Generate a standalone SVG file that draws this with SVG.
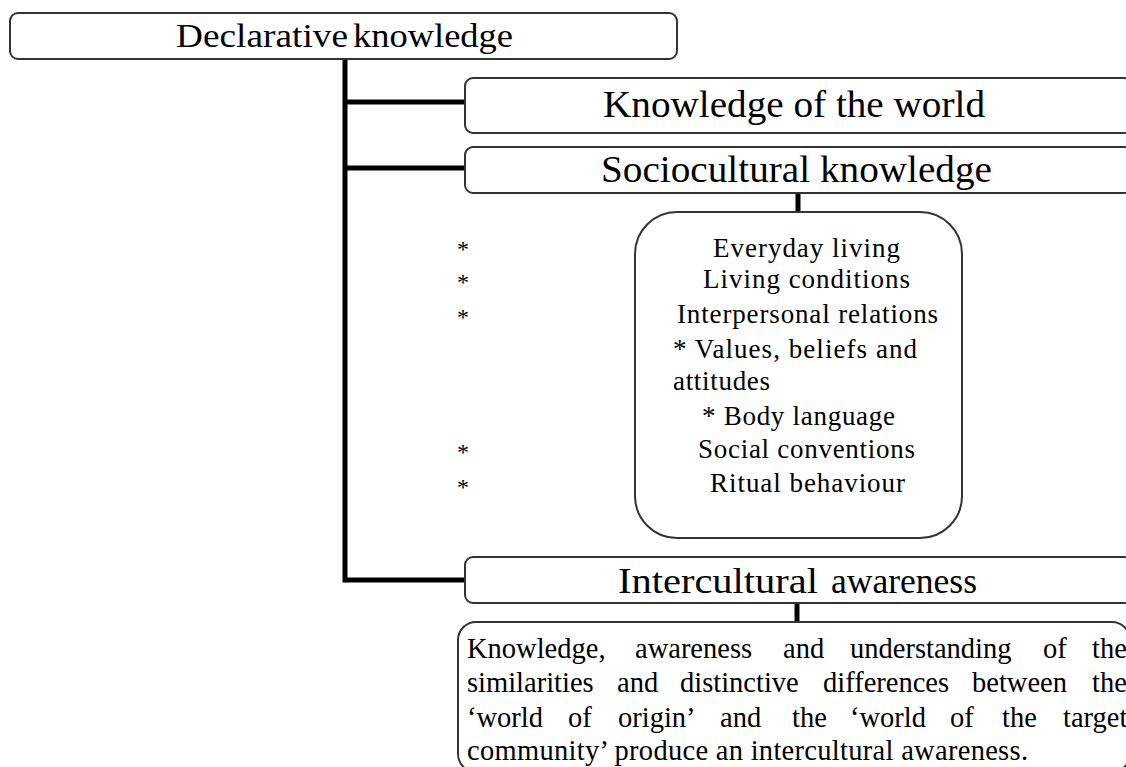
<svg xmlns="http://www.w3.org/2000/svg" width="1126" height="767" viewBox="0 0 1126 767">
<style>
  .box { fill: #ffffff; stroke: #333333; stroke-width: 2; }
  .con { fill: none; stroke: #000000; stroke-width: 5; stroke-linejoin: miter; stroke-linecap: butt; }
  text { font-family: "Liberation Serif", "Times New Roman", serif; fill: #000000; }
  .h1 { font-size: 34px; }
  .h2 { font-size: 37px; }
  .h3 { font-size: 35px; }
  .item { font-size: 27px; }
  .star { font-size: 24px; }
  .para { font-size: 28.5px; }
</style>
<rect width="1126" height="767" fill="#ffffff"/>
<g id="connectors">
  <path class="con" d="M345 59 V580 H466"/>
  <path class="con" d="M345 102 H466"/>
  <path class="con" d="M345 168 H466"/>
  <path class="con" d="M798 193 V213"/>
  <path class="con" d="M797 603 V622"/>
</g>
<g id="declarative">
  <rect class="box" x="10" y="13" width="667" height="46" rx="8"/>
  <text class="h1" y="47"><tspan x="176" textLength="172" lengthAdjust="spacingAndGlyphs">Declarative</tspan><tspan x="353" textLength="160" lengthAdjust="spacingAndGlyphs">knowledge</tspan></text>
</g>
<g id="world">
  <rect class="box" x="465" y="78" width="667" height="55" rx="8"/>
  <text class="h2" x="603" y="117" textLength="382" lengthAdjust="spacingAndGlyphs">Knowledge of the world</text>
</g>
<g id="sociocultural">
  <rect class="box" x="465" y="147" width="667" height="46" rx="8"/>
  <text class="h2" x="601" y="182" textLength="391" lengthAdjust="spacingAndGlyphs">Sociocultural knowledge</text>
</g>
<g id="stars">
  <text class="star" x="457" y="257">*</text>
  <text class="star" x="457" y="290">*</text>
  <text class="star" x="457" y="325">*</text>
  <text class="star" x="457" y="460">*</text>
  <text class="star" x="457" y="495">*</text>
</g>
<g id="sociocultural-items">
  <rect class="box" x="635" y="212" width="327" height="326" rx="42"/>
  <text class="item" x="713" y="257" textLength="187" lengthAdjust="spacing">Everyday living</text>
  <text class="item" x="703" y="288" textLength="207" lengthAdjust="spacing">Living conditions</text>
  <text class="item" x="677" y="323" textLength="261" lengthAdjust="spacing">Interpersonal relations</text>
  <text class="item" x="673" y="358" textLength="244" lengthAdjust="spacing">* Values, beliefs and</text>
  <text class="item" x="673" y="390" textLength="97" lengthAdjust="spacing">attitudes</text>
  <text class="item" x="702" y="425" textLength="193" lengthAdjust="spacing">* Body language</text>
  <text class="item" x="698" y="458" textLength="217" lengthAdjust="spacing">Social conventions</text>
  <text class="item" x="710" y="492" textLength="195" lengthAdjust="spacing">Ritual behaviour</text>
</g>
<g id="intercultural">
  <rect class="box" x="465" y="557" width="667" height="46" rx="8"/>
  <text class="h3" y="593"><tspan x="618" textLength="200" lengthAdjust="spacingAndGlyphs">Intercultural</tspan><tspan x="831" textLength="146" lengthAdjust="spacingAndGlyphs">awareness</tspan></text>
</g>
<g id="intercultural-description">
  <rect class="box" x="458" y="622" width="672" height="150" rx="18"/>
  <text class="para" y="658"><tspan x="467">Knowledge,</tspan><tspan x="635">awareness</tspan><tspan x="783">and</tspan><tspan x="850">understanding</tspan><tspan x="1043">of</tspan><tspan x="1092">the</tspan></text>
  <text class="para" y="692"><tspan x="467">similarities</tspan><tspan x="617">and</tspan><tspan x="680">distinctive</tspan><tspan x="823">differences</tspan><tspan x="972">between</tspan><tspan x="1092">the</tspan></text>
  <text class="para" y="727"><tspan x="467">‘world</tspan><tspan x="568">of</tspan><tspan x="618">origin’</tspan><tspan x="720">and</tspan><tspan x="792">the</tspan><tspan x="850">‘world</tspan><tspan x="950">of</tspan><tspan x="1002">the</tspan><tspan x="1063">target</tspan></text>
  <text class="para" x="467" y="760" textLength="561" lengthAdjust="spacing">community’ produce an intercultural awareness.</text>
</g>
</svg>
